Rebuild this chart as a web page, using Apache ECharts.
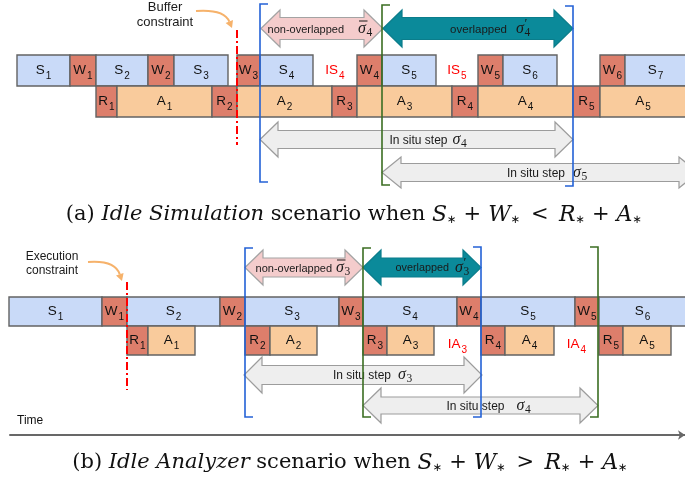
<!DOCTYPE html>
<html><head><meta charset="utf-8">
<script src="https://cdn.jsdelivr.net/npm/echarts@6/dist/echarts.min.js"></script>
<style>html,body{margin:0;padding:0;background:#fff}#c{width:685px;height:485px}</style>
</head><body><div id="c"></div>
<script>
// ---------- DATA (time units on the shared time axis) ----------
// panel (a) Idle Simulation: [kind, index, start, end]
const simA = [['S','1',17,70],['W','1',70,96],['S','2',96,148],['W','2',148,174],['S','3',174,228],['W','3',237,260],['S','4',260,313],['W','4',357,382],['S','5',382,436],['W','5',478,503],['S','6',503,557],['W','6',600,625],['S','7',625,686]];
const anaA = [['R','1',96,117],['A','1',117,212],['R','2',212,237],['A','2',237,332],['R','3',332,357],['A','3',357,452],['R','4',452,478],['A','4',478,573],['R','5',573,600],['A','5',600,686]];
const idleA = [['IS','4',313,357],['IS','5',436,478]];
// panel (b) Idle Analyzer
const simB = [['S','1',9,102],['W','1',102,127],['S','2',127,220],['W','2',220,245],['S','3',245,339],['W','3',339,363],['S','4',363,457],['W','4',457,481],['S','5',481,575],['W','5',575,599],['S','6',599,686]];
const anaB = [['R','1',127,148],['A','1',148,195],['R','2',245,270],['A','2',270,317],['R','3',363,387],['A','3',387,434],['R','4',481,505],['A','4',505,554],['R','5',599,623],['A','5',623,671]];
const idleB = [['IA','3',434,481],['IA','4',554,599]];
// arrows: [id, kind, text, sigma mark, step index, from, to]
const arrowsA = [['a1','non','non-overlapped','bar','4',261,383],['a2','ovl','overlapped','prime','4',383,573],['a3','step','In situ step','','4',260,573],['a4','step','In situ step','','5',382,698]];
const arrowsB = [['b1','non','non-overlapped','bar','3',245,363],['b2','ovl','overlapped','prime','3',363,481],['b3','step','In situ step','','3',244,482],['b4','step','In situ step','','4',363,598]];
// step brackets: [id, colour, time, side]
const bracketsA = [['ba1','blue',260,'L'],['ba2','blue',573,'R'],['ba3','green',382,'L']];
const bracketsB = [['bb1','blue',245,'L'],['bb2','blue',481,'R'],['bb3','green',363,'L'],['bb4','green',598,'R']];
// constraints: [id, text, time]
const constraints = [['ca','Buffer\nconstraint',237],['cb','Execution\nconstraint',127]];
const captionA = [['r','(a) '],['i','Idle Simulation'],['r',' scenario when '],['m','S'],['s','∗'],['r','\u2004+\u2004'],['m','W'],['s','∗'],['r','\u2002<\u2002'],['m','R'],['s','∗'],['r','\u2004+\u2004'],['m','A'],['s','∗']];
const captionB = [['r','(b) '],['i','Idle Analyzer'],['r',' scenario when '],['m','S'],['s','∗'],['r','\u2004+\u2004'],['m','W'],['s','∗'],['r','\u2002>\u2002'],['m','R'],['s','∗'],['r','\u2004+\u2004'],['m','A'],['s','∗']];
const timeLabel = 'Time';

// ---------- LAYOUT / STYLE ----------
const ROWS = {a:{sim:[55,86],ana:[86,117]}, b:{sim:[297,326],ana:[326,355]}};
const FILL = {S:'#c9daf8', W:'#dd7e6b', R:'#dd7e6b', A:'#f9cb9c'};
const SANS = 'Liberation Sans, Arial, sans-serif';
const SERIF = 'Liberation Serif, Times New Roman, serif';
const CAPSERIF = 'DejaVu Serif, serif';
const BOXRICH = {m:{fontFamily:SANS,fontSize:13.5,fill:'#111'}, s:{fontFamily:SANS,fontSize:10,fill:'#111',padding:[11,0,0,1]}};
const IDLERICH = {m:{fontFamily:SANS,fontSize:13.5,fill:'#ff0000'}, s:{fontFamily:SANS,fontSize:10,fill:'#ff0000',padding:[11,0,0,1]}};
const ARROW = {
  a1:{y:28.5,head:37,shaft:22,hl:19,te:22,ms:36,fs:11}, a2:{y:28.5,head:37,shaft:22,hl:19,te:29,ms:38,fs:11.5},
  a3:{y:139.5,head:35,shaft:18,hl:18,te:31,ms:36,fs:12}, a4:{y:172.5,head:31,shaft:18,hl:19,te:25,ms:33,fs:12},
  b1:{y:267.5,head:35,shaft:19,hl:18,te:28,ms:32,fs:11}, b2:{y:267.5,head:35,shaft:19,hl:18,te:27,ms:33,fs:10.8},
  b3:{y:375,head:36,shaft:19,hl:18,te:28,ms:35,fs:12}, b4:{y:405.5,head:35,shaft:17,hl:18,te:24,ms:36,fs:12}
};
const AFILL = {non:['#f4cccc','#a3a3a3'], ovl:['#0b8a9a','#0a7d8b'], step:['#eeeeee','#9c9c9c']};
const BR = {ba1:[4,182],ba2:[6,186],ba3:[5,185],bb1:[248,417],bb2:[247,417],bb3:[248,417],bb4:[247,417]};
const BCOL = {blue:'#2462d6', green:'#3b6e22'};
const CONS = {ca:{y:[30,145],text:[165,15],lh:15,fs:13,cur:[[196,11],[224,9],[232,28]]}, cb:{y:[282,390],text:[52,264],lh:14,fs:12,cur:[[88,262],[115,260],[122,281]]}};
const INK = '#1a1a1a';

function boxSeries(list, row) {
  return {type:'custom', z:2, data:list.map(d=>[d[2],d[3]]), renderItem(p, api){
    const d = list[p.dataIndex];
    const a = api.coord([api.value(0), row[0]]), b = api.coord([api.value(1), row[1]]);
    return {type:'group', children:[
      {type:'rect', shape:{x:a[0],y:a[1],width:b[0]-a[0],height:b[1]-a[1]}, style:{fill:FILL[d[0]],stroke:'#636363',lineWidth:1.4}},
      {type:'text', x:(a[0]+b[0])/2, y:(a[1]+b[1])/2, style:{text:'{m|'+d[0]+'}{s|'+d[1]+'}', rich:BOXRICH, align:'center', verticalAlign:'middle'}}
    ]};
  }};
}
function idleSeries(list, row, dy) {
  return {type:'custom', z:2, data:list.map(d=>[d[2],d[3]]), renderItem(p, api){
    const d = list[p.dataIndex];
    const a = api.coord([(api.value(0)+api.value(1))/2, (row[0]+row[1])/2]);
    return {type:'text', x:a[0], y:a[1]+dy, style:{text:'{m|'+d[0]+'}{s|'+d[1]+'}', rich:IDLERICH, align:'center', verticalAlign:'middle'}};
  }};
}
function arrowSeries(list) {
  return {type:'custom', z:3, data:list.map(d=>[d[5],d[6]]), renderItem(p, api){
    const d = list[p.dataIndex], L = ARROW[d[0]];
    const p0 = api.coord([api.value(0), L.y]), p1 = api.coord([api.value(1), L.y]);
    const x0=p0[0], x1=p1[0], yc=p0[1], h=L.head/2, s=L.shaft/2, hl=L.hl;
    const pts = [[x0,yc],[x0+hl,yc-h],[x0+hl,yc-s],[x1-hl,yc-s],[x1-hl,yc-h],[x1,yc],[x1-hl,yc+h],[x1-hl,yc+s],[x0+hl,yc+s],[x0+hl,yc+h]];
    const c = AFILL[d[1]];
    const cx = (x0+x1)/2, ms = cx + L.ms;
    const kids = [
      {type:'polygon', shape:{points:pts}, style:{fill:c[0],stroke:c[1],lineWidth:1.2}},
      {type:'text', x:cx+L.te, y:yc+1, style:{text:d[2],fontFamily:SANS,fontSize:L.fs,fill:INK,align:'right',verticalAlign:'middle'}},
      {type:'text', x:ms, y:yc, style:{text:'σ',fontFamily:SERIF,fontStyle:'italic',fontSize:16,fill:INK,align:'left',verticalAlign:'middle'}},
      {type:'text', x:ms+8.5, y:yc+4, style:{text:d[4],fontFamily:SERIF,fontSize:11.5,fill:INK,align:'left',verticalAlign:'middle'}}
    ];
    if (d[3]==='prime') kids.push({type:'text', x:ms+8.5, y:yc-5, style:{text:'′',fontFamily:SERIF,fontSize:13,fill:INK,align:'left',verticalAlign:'middle'}});
    if (d[3]==='bar') kids.push({type:'line', shape:{x1:ms+1,y1:yc-7.5,x2:ms+9.5,y2:yc-7.5}, style:{stroke:INK,lineWidth:1}});
    return {type:'group', children:kids};
  }};
}
function bracketSeries(list) {
  return {type:'custom', z:4, data:list.map(d=>[d[2],0]), renderItem(p, api){
    const d = list[p.dataIndex], r = BR[d[0]];
    const a = api.coord([api.value(0), r[0]]), b = api.coord([api.value(0), r[1]]);
    const t = d[3]==='L' ? 8 : -8;
    return {type:'polyline', shape:{points:[[a[0]+t,a[1]],[a[0],a[1]],[b[0],b[1]],[b[0]+t,b[1]]]}, style:{stroke:BCOL[d[1]],lineWidth:1.6,fill:null}};
  }};
}
function constraintSeries() {
  return {type:'custom', z:5, data:constraints.map(d=>[d[2],0]), renderItem(p, api){
    const d = constraints[p.dataIndex], C = CONS[d[0]];
    const a = api.coord([api.value(0), C.y[0]]), b = api.coord([api.value(0), C.y[1]]);
    const tp = api.coord(C.text);
    const q = C.cur.map(v=>api.coord(v));
    const e = q[2], cp = q[1];
    let ux = e[0]-cp[0], uy = e[1]-cp[1]; const ln = Math.hypot(ux,uy); ux/=ln; uy/=ln;
    const hl = 7, hw = 4;
    const bx = e[0]-ux*hl, by = e[1]-uy*hl;
    return {type:'group', children:[
      {type:'line', shape:{x1:a[0],y1:a[1],x2:b[0],y2:b[1]}, style:{stroke:'#ff0000',lineWidth:2,lineDash:[8,3,2,3]}},
      {type:'bezierCurve', shape:{x1:q[0][0],y1:q[0][1],cpx1:cp[0],cpy1:cp[1],x2:bx,y2:by}, style:{stroke:'#f6b26b',lineWidth:2,fill:null}},
      {type:'polygon', shape:{points:[[e[0],e[1]],[bx-uy*hw,by+ux*hw],[bx+uy*hw,by-ux*hw]]}, style:{fill:'#f6b26b'}},
      {type:'text', x:tp[0], y:tp[1], style:{text:d[1],fontFamily:SANS,fontSize:C.fs,lineHeight:C.lh,fill:INK,align:'center',verticalAlign:'middle'}}
    ]};
  }};
}
function captionText(parts){ return parts.map(q=>'{'+q[0]+'|'+q[1]+'}').join(''); }
const CAPRICH = {
  r:{fontFamily:CAPSERIF,fontSize:21,fill:'#111'},
  i:{fontFamily:CAPSERIF,fontStyle:'italic',fontSize:21,fill:'#111'},
  m:{fontFamily:CAPSERIF,fontStyle:'italic',fontSize:22,fill:'#111'},
  s:{fontFamily:'DejaVu Sans',fontSize:11.5,fill:'#111',padding:[10,0,0,0]}
};
const CAPS = [[captionA,354,215],[captionB,350,463]];
function captionSeries(){
  return {type:'custom', z:5, data:CAPS.map(c=>[c[1],c[2]]), renderItem(p, api){
    const c = CAPS[p.dataIndex];
    const a = api.coord([api.value(0), api.value(1)]);
    return {type:'text', x:a[0], y:a[1], style:{text:captionText(c[0]),rich:CAPRICH,align:'center',verticalAlign:'middle'}};
  }};
}
function timeLabelSeries(){
  return {type:'custom', z:5, data:[[17,421]], renderItem(p, api){
    const a = api.coord([api.value(0), api.value(1)]);
    return {type:'text', x:a[0], y:a[1], style:{text:timeLabel,fontFamily:SANS,fontSize:12,fill:'#111',align:'left',verticalAlign:'middle'}};
  }};
}

const chart = echarts.init(document.getElementById('c'), null, {renderer:'canvas'});
chart.setOption({
  backgroundColor:'#fff', animation:false,
  grid:{left:10,right:0,top:0,bottom:0},
  xAxis:{type:'value',min:10,max:685,position:'bottom',offset:-50,
    axisLine:{show:true,onZero:false,symbol:['none','arrow'],symbolSize:[7,7],lineStyle:{color:'#686868',width:2}},
    axisTick:{show:false},axisLabel:{show:false},splitLine:{show:false}},
  yAxis:{type:'value',min:0,max:485,inverse:true,show:false,splitLine:{show:false}},
  series:[
    boxSeries(simA, ROWS.a.sim), boxSeries(anaA, ROWS.a.ana), idleSeries(idleA, ROWS.a.sim, 0),
    boxSeries(simB, ROWS.b.sim), boxSeries(anaB, ROWS.b.ana), idleSeries(idleB, ROWS.b.ana, 4),
    arrowSeries(arrowsA), arrowSeries(arrowsB),
    bracketSeries(bracketsA), bracketSeries(bracketsB),
    constraintSeries(), captionSeries(), timeLabelSeries()
  ]
});
</script></body></html>
